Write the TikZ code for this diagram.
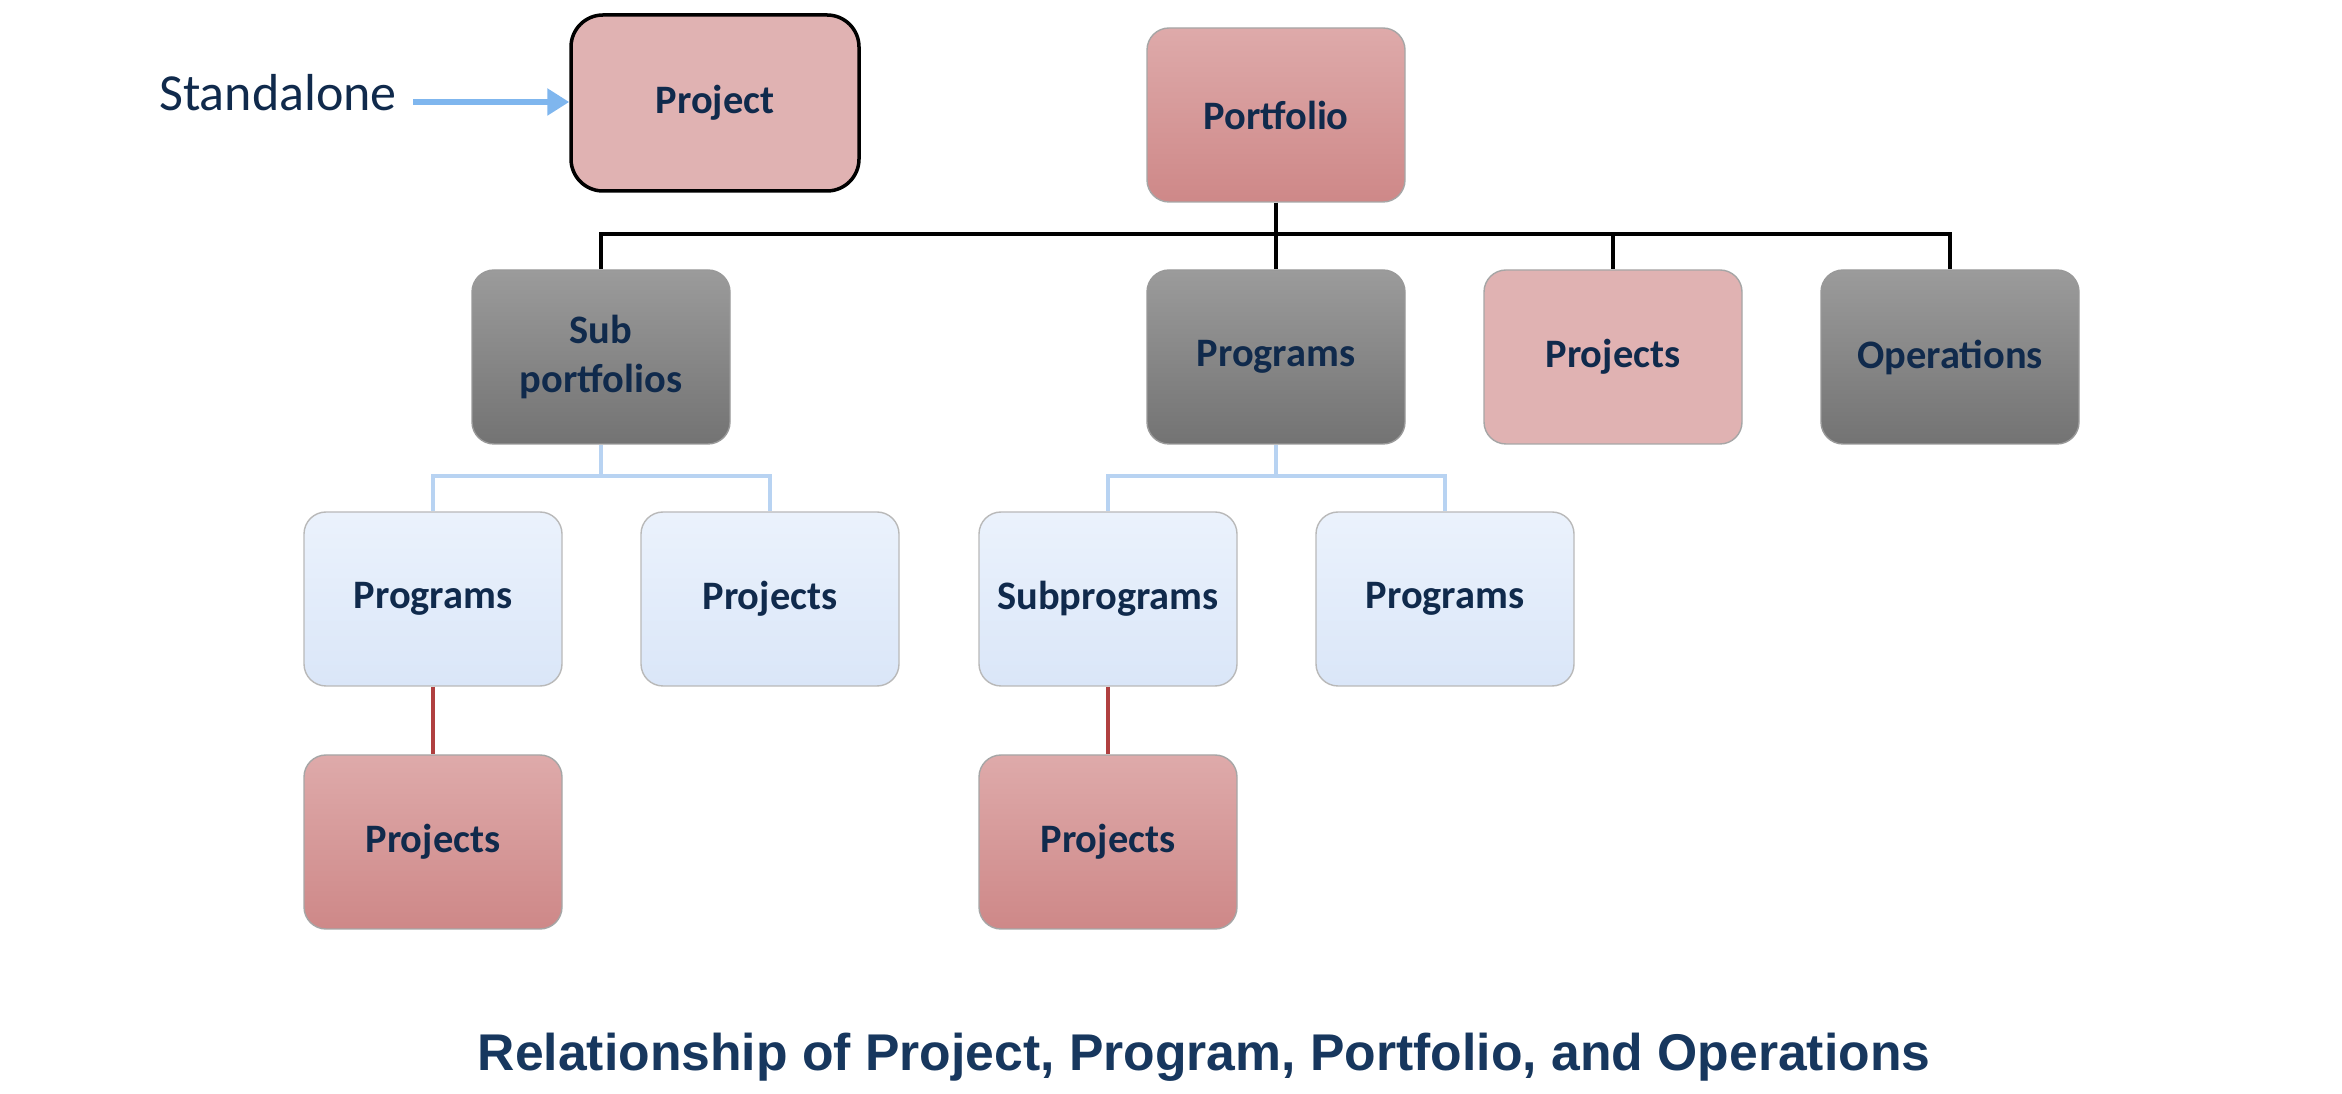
\documentclass[tikz,border=0pt]{standalone}
\usepackage{fontspec}
\setmainfont{Carlito}
\newfontfamily\titlefont{Liberation Sans}
\usepackage{tikz}
\usetikzlibrary{arrows.meta,positioning}
\definecolor{navy}{RGB}{16,42,76}
\definecolor{titleblue}{RGB}{23,55,94}
\definecolor{rosetop}{RGB}{222,170,170}
\definecolor{rosebot}{RGB}{206,136,136}
\definecolor{roseflat}{RGB}{224,178,178}
\definecolor{greytop}{RGB}{155,155,155}
\definecolor{greybot}{RGB}{115,115,115}
\definecolor{skytop}{RGB}{235,242,252}
\definecolor{skybot}{RGB}{218,230,248}
\definecolor{skyline}{RGB}{184,211,242}
\definecolor{arrowblue}{RGB}{127,182,238}
\definecolor{redline}{RGB}{176,64,64}

\begin{document}
\begin{tikzpicture}[x=0.1mm,y=-0.1mm,
  box/.style={rounded corners=2.2mm,minimum width=2.58cm,minimum height=1.74cm,
    align=center,font=\bfseries\fontsize{11.5}{14}\selectfont,text=navy,draw=gray!70,line width=0.4pt},
  rosebox/.style={box,top color=rosetop,bottom color=rosebot},
  flatbox/.style={box,fill=roseflat},
  greybox/.style={box,top color=greytop,bottom color=greybot,draw=gray!80},
  skybox/.style={box,top color=skytop,bottom color=skybot,draw=gray!55}]
  \useasboundingbox (0,0) rectangle (2342,1094);

  % standalone project
  \node[box,fill=roseflat,draw=black,line width=1pt,rounded corners=3.2mm,
        minimum width=2.88cm,minimum height=1.76cm] (single) at (715,103) {Project};
  \node[font=\fontsize{14.8}{18}\selectfont,text=navy] (alone) at (278,93) {Standalone};
  \draw[-{Triangle[length=2.2mm,width=2.6mm]},arrowblue,line width=1.8pt] (alone.east)+(4,9) coordinate (a0) -- (single.west|-a0);

  % portfolio and its direct children
  \node[rosebox] (portfolio) at (1276,115) {Portfolio};
  \node[greybox] (subport) at (601,357) {Sub\\portfolios};
  \node[greybox] (prog) at (1276,357) {Programs};
  \node[flatbox] (proj) at (1613,357) {Projects};
  \node[greybox] (oper) at (1950,357) {Operations};

  \coordinate (bus) at (1276,234);
  \draw[line width=1.1pt] (portfolio.south) -- (bus);
  \foreach \n in {subport,prog,proj,oper}
    \draw[line width=1.1pt] (bus) -| (\n.north);

  % third row
  \node[skybox] (sprog) at (433,599) {Programs};
  \node[skybox] (sproj) at (770,599) {Projects};
  \node[skybox] (subprog) at (1108,599) {Subprograms};
  \node[skybox] (pprog) at (1445,599) {Programs};

  \coordinate (sbus) at (601,476);
  \coordinate (pbus) at (1276,476);
  \draw[skyline,line width=1.3pt] (subport.south) -- (sbus);
  \draw[skyline,line width=1.3pt] (prog.south) -- (pbus);
  \foreach \a/\b in {sbus/sprog,sbus/sproj,pbus/subprog,pbus/pprog}
    \draw[skyline,line width=1.3pt] (\a) -| (\b.north);

  % fourth row
  \node[rosebox] (leafa) at (433,842) {Projects};
  \node[rosebox] (leafb) at (1108,842) {Projects};
  \draw[redline,line width=0.9pt] (sprog.south) -- (leafa.north);
  \draw[redline,line width=0.9pt] (subprog.south) -- (leafb.north);

  \node[font=\titlefont\bfseries\fontsize{14.7}{18}\selectfont,text=titleblue] (caption) at (1204,1057)
    {Relationship of Project, Program, Portfolio, and Operations};
\end{tikzpicture}
\end{document}
